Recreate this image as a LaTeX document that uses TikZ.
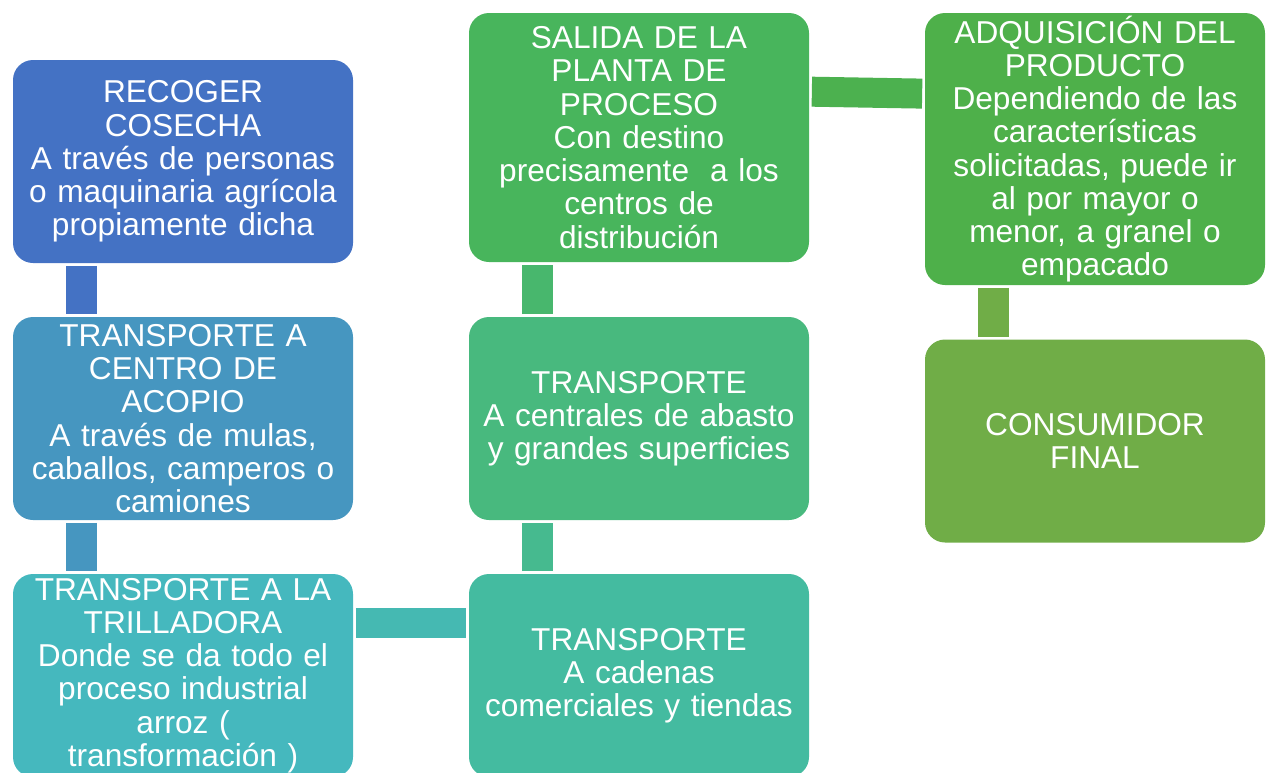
\documentclass[tikz,border=0pt]{standalone}
\usepackage{fontspec}
\setmainfont{Liberation Sans}
\usetikzlibrary{shapes}

\definecolor{cosecha}{HTML}{4472C4}
\definecolor{acopio}{HTML}{4696C0}
\definecolor{trilla}{HTML}{45B8BE}
\definecolor{cadena}{HTML}{44BBA0}
\definecolor{central}{HTML}{48B97E}
\definecolor{planta}{HTML}{48B55C}
\definecolor{adquis}{HTML}{4EB04A}
\definecolor{consum}{HTML}{70AD47}

\begin{document}
\begin{tikzpicture}
\tikzset{
block/.style={rectangle,rounded corners=0.4cm,text=white,inner xsep=0.2cm,inner ysep=0pt,
text width=6.4cm, minimum height=4.06cm, align=center,
font=\fontsize{18pt}{18.9pt}\selectfont, node distance=5.14cm},
mylink/.style={line width=0.62cm, shorten >=0.05cm, shorten <=0.05cm},
}
\path[use as bounding box, clip] (0,0) rectangle (25.34,-15.44);

\node [block, fill=cosecha] (recoger) at (3.66,-3.23) {RECOGER\\COSECHA\\A través de personas\\o maquinaria agrícola\\propiamente dicha};
\node [block, fill=acopio, below of=recoger] (centroacopio) {TRANSPORTE A\\CENTRO DE\\ACOPIO\\A través de mulas,\\caballos, camperos o\\camiones};
\node [block, fill=trilla, below of=centroacopio] (trilladora) {TRANSPORTE A LA\\TRILLADORA\\Donde se da todo el\\proceso industrial\\arroz (\\transformación )};
\node [block, fill=cadena, right of=trilladora, xshift=3.98cm] (cadenas) {TRANSPORTE\\A cadenas\\comerciales y tiendas};
\node [block, fill=central, above of=cadenas] (centrales) {TRANSPORTE\\A centrales de abasto\\y grandes superficies};
\node [block, fill=planta, above of=centrales, minimum height=4.98cm, yshift=0.48cm] (salida) {SALIDA DE LA\\PLANTA DE\\PROCESO\\Con destino\\precisamente \ a los\\centros de\\distribución};
\node [block, fill=adquis, right of=salida, xshift=3.98cm, yshift=-0.23cm, minimum height=5.44cm] (adquisicion) {ADQUISICIÓN DEL\\PRODUCTO\\Dependiendo de las\\características\\solicitadas, puede ir\\al por mayor o\\menor, a granel o\\empacado};
\node [block, fill=consum, below of=adquisicion, yshift=-0.70cm] (consumidor) {CONSUMIDOR\\FINAL};

\draw[mylink, cosecha] ([xshift=-2.03cm]recoger.south) -- ([xshift=-2.03cm]centroacopio.north);
\draw[mylink, acopio] ([xshift=-2.03cm]centroacopio.south) -- ([xshift=-2.03cm]trilladora.north);
\draw[mylink, trilla!60!cadena, line width=0.6cm] ([yshift=-0.98cm]trilladora.north east) -- ([yshift=-0.98cm]cadenas.north west);
\draw[mylink, cadena!50!central] ([xshift=-2.03cm]cadenas.north) -- ([xshift=-2.03cm]centrales.south);
\draw[mylink, central!50!planta] ([xshift=-2.03cm]centrales.north) -- ([xshift=-2.03cm]salida.south);
\draw[mylink, planta!30!adquis, line width=0.6cm] ([yshift=-1.58cm]salida.north east) -- ([yshift=-1.62cm]adquisicion.north west);
\draw[mylink, consum] ([xshift=-2.03cm]adquisicion.south) -- ([xshift=-2.03cm]consumidor.north);
\end{tikzpicture}
\end{document}
